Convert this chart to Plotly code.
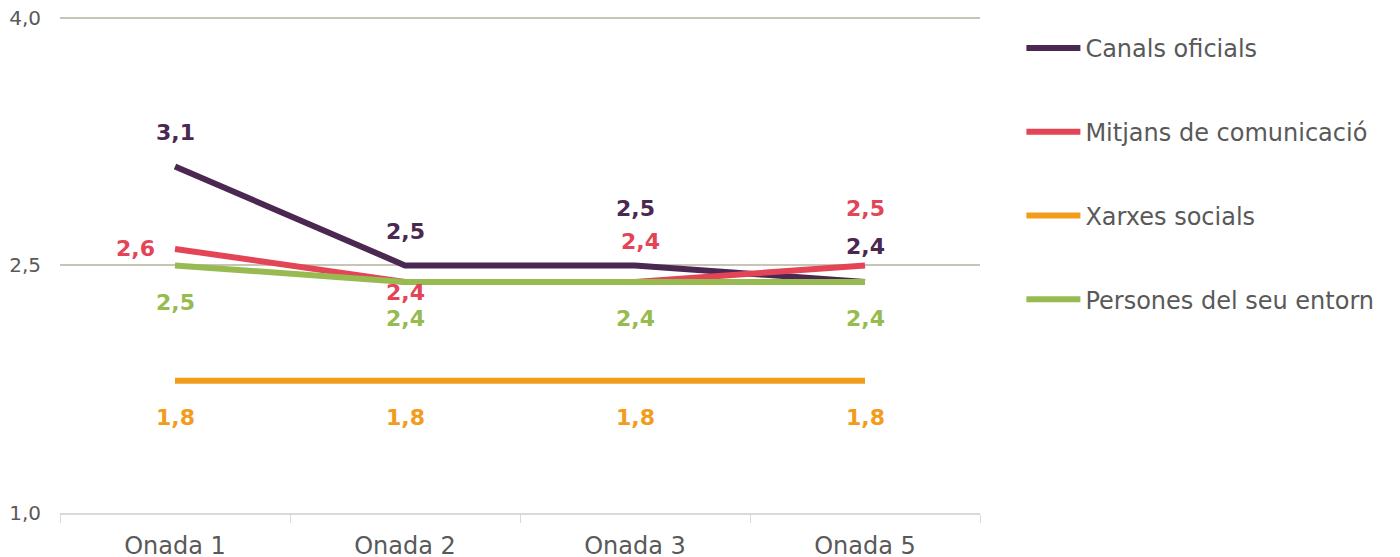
import plotly.graph_objects as go

categories = ["Onada 1", "Onada 2", "Onada 3", "Onada 5"]
series_names = ["Canals oficials", "Mitjans de comunicació", "Xarxes socials", "Persones del seu entorn"]
canals = [3.1, 2.5, 2.5, 2.4]
mitjans = [2.6, 2.4, 2.4, 2.5]
xarxes = [1.8, 1.8, 1.8, 1.8]
persones = [2.5, 2.4, 2.4, 2.4]
y_ticks = [1.0, 2.5, 4.0]

series_values = [canals, mitjans, xarxes, persones]
colors = ["#4b2852", "#e34557", "#f39c1b", "#97bb51"]
# label offsets in pixels (xshift, yshift) for each series/point
label_offsets = [
    [(0, 34), (0, 34), (0, 57), (0, 35)],
    [(-40, 0), (0, -11), (5, 40), (0, 57)],
    [(0, -37), (0, -37), (0, -37), (0, -37)],
    [(0, -37), (0, -37), (0, -37), (0, -37)],
]

FONT = "DejaVu Sans"
fig = go.Figure()
annotations = []
for name, vals, col, offs in zip(series_names, series_values, colors, label_offsets):
    fig.add_trace(go.Scatter(
        x=categories, y=vals, name=name, mode="lines",
        line=dict(color=col, width=6), legendgroup=name,
        hoverinfo="skip",
    ))
    for c, v, (dx, dy) in zip(categories, vals, offs):
        annotations.append(dict(
            x=c, y=v, xref="x", yref="y", showarrow=False,
            text=f"{v:.1f}".replace(".", ","), xshift=dx, yshift=dy,
            font=dict(family=FONT, size=22, color=col, weight="bold"),
        ))

# page body has an 8px margin: figure is sized/offset to compensate
fig.update_layout(
    width=1392, height=549,
    margin=dict(l=52, r=420, t=8, b=44, autoexpand=False),
    paper_bgcolor="white", plot_bgcolor="white",
    separators=",.",
    annotations=annotations,
    showlegend=True,
    legend=dict(
        x=1.045, xanchor="left", y=0.98, yanchor="top",
        font=dict(family=FONT, size=24, color="#595959"),
        traceorder="grouped", tracegroupgap=49.5, itemwidth=54,
        bgcolor="rgba(0,0,0,0)",
    ),
    xaxis=dict(
        type="category", range=[-0.5, 3.5],
        tickson="boundaries", ticks="outside", ticklen=8, tickcolor="#d9d9d9",
        showline=True, linecolor="#d9d9d9", linewidth=1.5,
        showgrid=False, zeroline=False, ticklabelstandoff=10,
        tickfont=dict(family=FONT, size=24, color="#595959"),
    ),
    yaxis=dict(
        range=[0.999, 4.012], tickvals=y_ticks, tickformat=".1f",
        showgrid=True, gridcolor="#c9c5b5", gridwidth=1.5,
        zeroline=False, showline=False, ticks="",
        ticklabelstandoff=18, ticklabeloverflow="allow",
        tickfont=dict(family=FONT, size=20, color="#595959"),
    ),
)

fig.write_html("out.html")
